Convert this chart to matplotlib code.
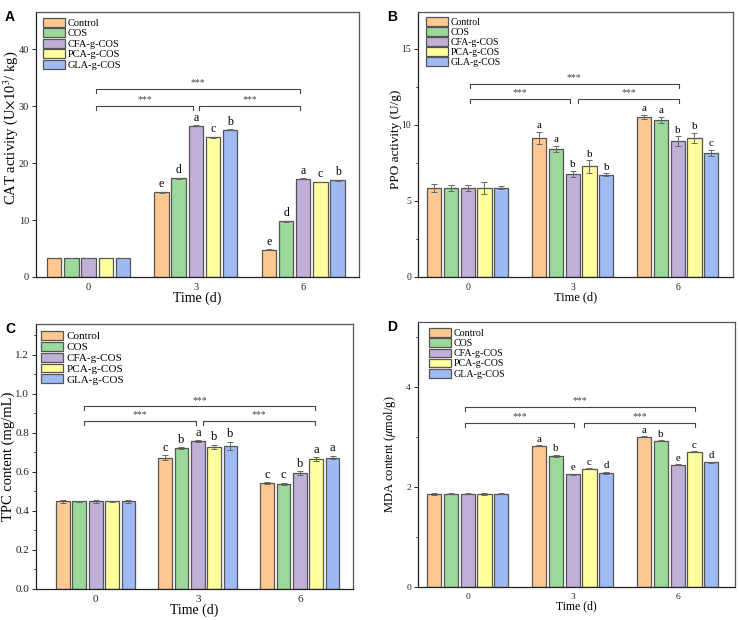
import matplotlib.pyplot as plt
from matplotlib.ticker import AutoMinorLocator
import numpy as np

plt.rcParams['font.family'] = ['Liberation Serif', 'DejaVu Serif']
plt.rcParams['mathtext.fontset'] = 'stix'

days = ['0', '3', '6']
groups = ['Control', 'COS', 'CFA-g-COS', 'PCA-g-COS', 'GLA-g-COS']
colors = ['#FFC891', '#9DD89B', '#C0B0D8', '#FFFF9E', '#9DBBF2']

# rows = groups, columns = day 0, 3, 6
CAT = np.array([[3.3, 14.85, 4.75],
                [3.3, 17.35, 9.77],
                [3.3, 26.55, 17.25],
                [3.3, 24.55, 16.67],
                [3.3, 25.85, 16.96]])
CAT_err = np.array([[0.05, 0.1, 0.08],
                    [0.05, 0.1, 0.08],
                    [0.05, 0.1, 0.08],
                    [0.05, 0.1, 0.08],
                    [0.05, 0.1, 0.08]])
CAT_let = [['', 'e', 'e'], ['', 'd', 'd'], ['', 'a', 'a'], ['', 'c', 'c'], ['', 'b', 'b']]

PPO = np.array([[5.85, 9.12, 10.50],
                [5.85, 8.42, 10.33],
                [5.85, 6.78, 8.93],
                [5.85, 7.26, 9.12],
                [5.85, 6.70, 8.14]])
PPO_err = np.array([[0.25, 0.40, 0.15],
                    [0.20, 0.20, 0.20],
                    [0.20, 0.20, 0.30],
                    [0.40, 0.40, 0.35],
                    [0.10, 0.10, 0.20]])
PPO_let = [['', 'a', 'a'], ['', 'a', 'a'], ['', 'b', 'b'], ['', 'b', 'b'], ['', 'b', 'c']]

TPC = np.array([[0.449, 0.673, 0.542],
                [0.449, 0.722, 0.539],
                [0.449, 0.758, 0.594],
                [0.449, 0.728, 0.666],
                [0.449, 0.733, 0.673]])
TPC_err = np.array([[0.008, 0.012, 0.005],
                    [0.004, 0.004, 0.004],
                    [0.008, 0.004, 0.008],
                    [0.004, 0.010, 0.008],
                    [0.007, 0.020, 0.008]])
TPC_let = [['', 'c', 'c'], ['', 'b', 'c'], ['', 'a', 'b'], ['', 'b', 'a'], ['', 'b', 'a']]

MDA = np.array([[1.87, 2.83, 3.01],
                [1.87, 2.63, 2.93],
                [1.87, 2.26, 2.45],
                [1.87, 2.37, 2.71],
                [1.87, 2.29, 2.50]])
MDA_err = np.array([[0.02, 0.01, 0.01],
                    [0.01, 0.02, 0.01],
                    [0.01, 0.01, 0.01],
                    [0.02, 0.01, 0.01],
                    [0.01, 0.02, 0.01]])
MDA_let = [['', 'a', 'a'], ['', 'b', 'b'], ['', 'e', 'e'], ['', 'c', 'c'], ['', 'd', 'd']]

W, H = 739, 620
fig = plt.figure(figsize=(W / 100, H / 100), dpi=100)

edge = '#555555'
step = 0.16
width = 0.135


def panel(box, vals, errs, lets, ylabel, ylim, yticks, minor, xlim, brk,
          fs, lab_fs, leg_fs, leg_off, ylab_x, ylab_y, letter):
    # box in pixels: left, top, right, bottom
    l, t, r, b = box
    ax = fig.add_axes([l / W, 1 - b / H, (r - l) / W, (b - t) / H])
    x = np.arange(len(days))
    for i, g in enumerate(groups):
        pos = x + (i - 2) * step
        ax.bar(pos, vals[i], width, color=colors[i], edgecolor=edge, linewidth=0.9,
               label=g, zorder=2)
        ax.errorbar(pos, vals[i], yerr=errs[i], fmt='none', ecolor='#666666',
                    elinewidth=0.7, capsize=2.2, capthick=0.7, zorder=3)
        for j in range(len(days)):
            if lets[i][j]:
                ax.text(pos[j], vals[i][j] + errs[i][j] + ylim * 0.006, lets[i][j],
                        ha='center', va='bottom', fontsize=fs + 1)
    # significance brackets
    (l0, l1, r0, r1, ylo, yhi) = brk
    tip = ylim * 0.015
    for (a, c, yy) in [(l0, l1, ylo), (r0, r1, ylo), (l0, r1, yhi)]:
        ax.plot([a, a, c, c], [yy - tip, yy, yy, yy - tip], color='#444444', lw=0.8)
        ax.text((a + c) / 2, yy + ylim * 0.006, '***', ha='center', va='bottom',
                fontsize=7, color='#444444')
    ax.set_xlim(*xlim)
    ax.set_ylim(0, ylim)
    ax.set_yticks(yticks)
    if minor:
        ax.yaxis.set_minor_locator(AutoMinorLocator(2))
    ax.set_xticks(x)
    ax.set_xticklabels(days)
    ax.tick_params(labelsize=fs, length=3, width=0.7, pad=2, colors='#222222')
    ax.tick_params(which='minor', length=1.8, width=0.6)
    ax.tick_params(axis='x', length=0, pad=4)
    for s in ax.spines.values():
        s.set_color('#555555')
        s.set_linewidth(0.9)
    ax.spines['left'].set_color('#222222')
    ax.spines['bottom'].set_color('#222222')
    ax.set_ylabel(ylabel, fontsize=lab_fs)
    ax.yaxis.set_label_coords(ylab_x / (r - l), ylab_y)
    ax.set_xlabel('Time (d)', fontsize=lab_fs - 0.5, labelpad=0)
    px = leg_fs * 100 / 72
    ax.legend(loc='upper left',
              bbox_to_anchor=(leg_off[0] / (r - l), 1 - leg_off[1] / (b - t)),
              frameon=False, fontsize=leg_fs, borderaxespad=0, borderpad=0,
              handlelength=22 / px, handleheight=9.5 / px, labelspacing=0.05,
              handletextpad=0.3)
    fig.text(l / W - 0.042, 1 - t / H + 0.004, letter, fontsize=10,
             fontweight='bold', family='Liberation Sans', va='top', ha='left')
    return ax


panel((36, 12, 359, 277), CAT, CAT_err, CAT_let,
      r'CAT activity (U$\times$10$^3$/ kg)', 46.5, [0, 10, 20, 30, 40], False,
      (-0.49, 2.52), (0.07, 0.975, 1.03, 1.97, 30.0, 33.0),
      7.5, 10.5, 7.5, (7, 6), -16, 0.562, 'A')
panel((418, 12, 733, 277), PPO, PPO_err, PPO_let,
      'PPO activity (U/g)', 17.4, [0, 5, 10, 15], True,
      (-0.473, 2.527), (0.02, 0.975, 1.055, 2.01, 11.7, 12.7),
      7.0, 9.5, 7.0, (8, 5), -16, 0.52, 'B')
panel((36, 324, 353, 589), TPC, TPC_err, TPC_let,
      'TPC content (mg/mL)', 1.357, [0, 0.2, 0.4, 0.6, 0.8, 1.0, 1.2], True,
      (-0.585, 2.52), (-0.11, 0.98, 1.05, 2.15, 0.862, 0.935),
      8.0, 10.5, 8.0, (5, 7), -21, 0.5, 'C')
panel((418, 322, 735, 587), MDA, MDA_err, MDA_let,
      r'MDA content ($\mu$mol/g)', 5.31, [0, 2, 4], True,
      (-0.473, 2.546), (-0.025, 1.01, 1.11, 2.165, 3.29, 3.61),
      6.8, 9.0, 7.2, (11, 6), -20, 0.5, 'D')

fig.savefig('out.png', dpi=100)
